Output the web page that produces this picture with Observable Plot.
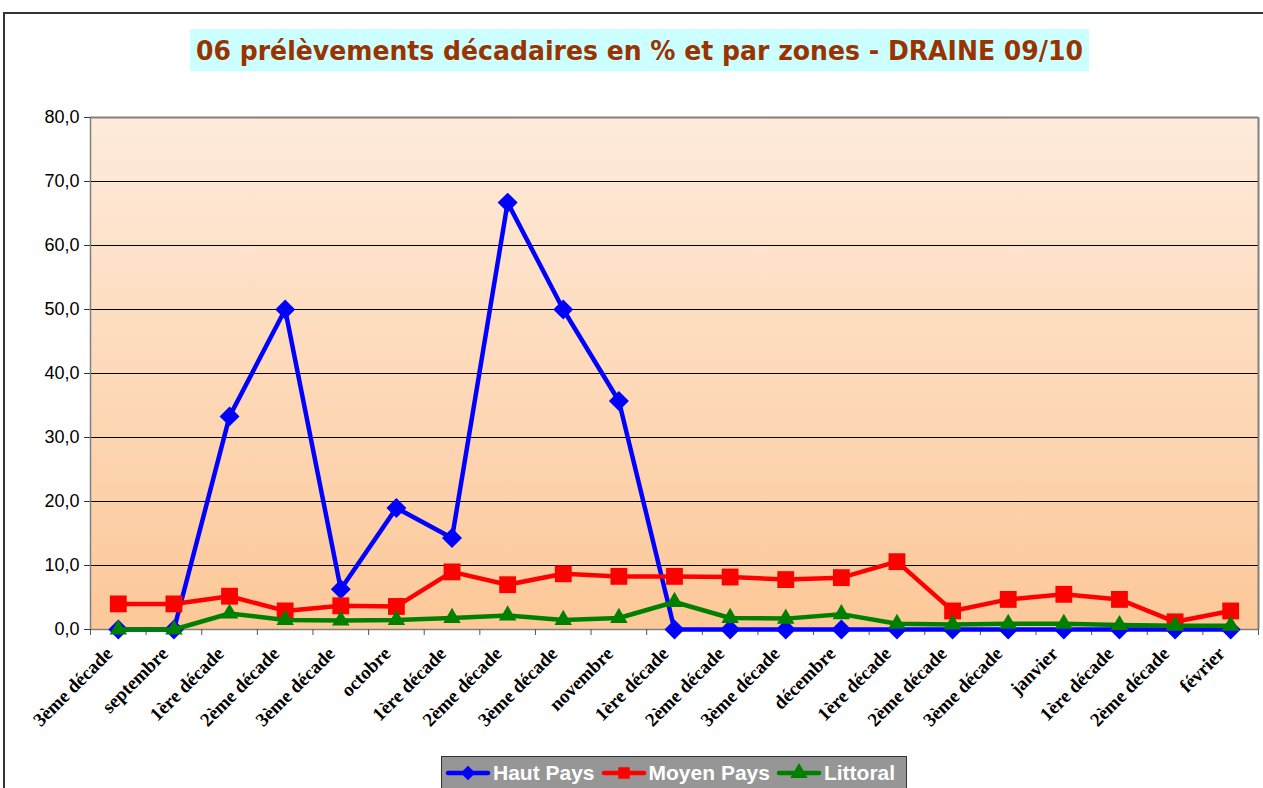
<!DOCTYPE html>
<html>
<head>
<meta charset="utf-8">
<script src="https://cdn.jsdelivr.net/npm/d3@7"></script>
<script src="https://cdn.jsdelivr.net/npm/@observablehq/plot@0.6"></script>
<style>
  html, body { margin: 0; padding: 0; background: #fff; width: 1263px; height: 788px; overflow: hidden; }
  #frame { position: absolute; left: 3px; top: 12px; width: 1300px; height: 820px; border-left: 2px solid #333; border-top: 2px solid #333; box-sizing: border-box; }
  #title { position: absolute; left: 190px; top: 29px; width: 899px; height: 42px; background: #ccffff;
    color: #993300; font-family: "DejaVu Sans", Verdana, sans-serif; font-weight: bold; font-size: 27px;
    display: flex; align-items: center; justify-content: center; white-space: nowrap; overflow: visible; }
  #title span { display: inline-block; transform-origin: center center; }
  #chart { position: absolute; left: 0; top: 100px; }
  #legend { position: absolute; left: 441px; top: 756px; width: 466px; height: 34px; background: #969696;
    border: 1px solid #333; box-sizing: border-box; display: flex; align-items: center; padding-left: 3px;
    font-family: "Liberation Sans", Arial, sans-serif; font-weight: bold; font-size: 21px; color: #fff; }
  #legend .item { display: flex; align-items: center; margin-right: 6px; white-space: nowrap; }
  #legend svg { margin-right: 2px; }
</style>
</head>
<body>
<div id="frame"></div>
<div id="title"><span>06 prélèvements décadaires en % et par zones - DRAINE 09/10</span></div>
<div id="chart"></div>
<div id="legend"></div>
<script>
const categories = ["3ème décade","septembre","1ère décade","2ème décade","3ème décade","octobre","1ère décade","2ème décade","3ème décade","novembre","1ère décade","2ème décade","3ème décade","décembre","1ère décade","2ème décade","3ème décade","janvier","1ère décade","2ème décade","février"];
const hautPays   = [0, 0, 33.3, 50.0, 6.3, 19.0, 14.3, 66.7, 50.0, 35.7, 0, 0, 0, 0, 0, 0, 0, 0, 0, 0, 0];
const moyenPays  = [4.0, 4.0, 5.2, 2.9, 3.7, 3.6, 9.0, 7.0, 8.7, 8.3, 8.3, 8.2, 7.8, 8.1, 10.6, 2.9, 4.7, 5.5, 4.7, 1.2, 2.9];
const littoral   = [0, 0, 2.5, 1.5, 1.4, 1.5, 1.8, 2.2, 1.5, 1.8, 4.3, 1.8, 1.7, 2.4, 0.9, 0.8, 0.9, 0.9, 0.7, 0.6, 0.6];
const seriesNames = ["Haut Pays", "Moyen Pays", "Littoral"];
const seriesColors = ["#0000ff", "#ff0000", "#008000"];
const seriesSymbols = ["diamond2", "square", "triangle"];
const seriesR = [9, 9.5, 6.5];
const yTicks = [0, 10, 20, 30, 40, 50, 60, 70, 80];

const allValues = [hautPays, moyenPays, littoral];
const data = [];
allValues.forEach((vals, s) => vals.forEach((v, i) => data.push({i, v, s: seriesNames[s]})));

const fmt = d => d.toFixed(1).replace(".", ",");
const idx = d3.range(categories.length);
const bounds = d3.range(-0.5, categories.length, 1);

const marks = [
  Plot.frame({fill: "url(#bggrad)", stroke: null}),
  Plot.ruleY(yTicks.filter(t => t > 0 && t < 80), {stroke: "#000", strokeWidth: 1}),
  Plot.ruleY([80], {stroke: "#808080", strokeWidth: 2}),
  Plot.ruleX([20.5], {stroke: "#808080", strokeWidth: 2}),
  Plot.ruleY([0], {stroke: "#808080", strokeWidth: 1.5}),
  Plot.ruleX([-0.5], {stroke: "#808080", strokeWidth: 1.5}),
  Plot.axisY({ticks: yTicks, tickFormat: fmt, tickSize: 6, tickPadding: 5, fontSize: 18,
    fontFamily: "Liberation Sans, Arial, sans-serif", fill: "#000", stroke: "#333", label: null}),
  Plot.axisX({ticks: bounds, tickFormat: () => "", tickSize: 6, stroke: "#555", label: null}),
  Plot.text(idx, {x: d => d, y: () => 0, text: i => categories[i], rotate: -45, textAnchor: "end",
    dx: -9, dy: 21, fontSize: 19, fontWeight: "bold", fontFamily: "Liberation Serif, Times New Roman, serif",
    fill: "#000", clip: false})
];
seriesNames.forEach((name, s) => {
  const d = data.filter(r => r.s === name);
  marks.push(Plot.line(d, {x: "i", y: "v", stroke: seriesColors[s], strokeWidth: 4.5}));
  marks.push(Plot.dot(d, {x: "i", y: "v", symbol: () => seriesSymbols[s], fill: seriesColors[s], stroke: null,
    r: seriesR[s]}));
});

const chart = Plot.plot({
  width: 1263,
  height: 650,
  marginLeft: 90,
  marginRight: 5,
  marginTop: 17,
  marginBottom: 121,
  style: {background: "transparent", overflow: "visible"},
  x: {type: "linear", domain: [-0.5, categories.length - 0.5]},
  y: {domain: [0, 80]},
  symbol: {type: "identity"},
  marks
});

const ns = "http://www.w3.org/2000/svg";
const defs = document.createElementNS(ns, "defs");
defs.innerHTML = `<linearGradient id="bggrad" x1="0" y1="0" x2="0" y2="1">
  <stop offset="0" stop-color="#feebdb"/><stop offset="1" stop-color="#fcc898"/></linearGradient>`;
chart.insertBefore(defs, chart.firstChild);
document.getElementById("chart").appendChild(chart);

// fit title text width to the reference's (~887px)
const tspan = document.querySelector("#title span");
const tw = tspan.getBoundingClientRect().width;
tspan.style.transform = `scaleX(${887 / tw})`;

// legend
const legend = document.getElementById("legend");
const symTypes = {diamond2: d3.symbolDiamond2, square: d3.symbolSquare, triangle: d3.symbolTriangle};
seriesNames.forEach((name, s) => {
  const path = d3.symbol(symTypes[seriesSymbols[s]], Math.PI * 6.5 * 6.5)();
  const item = document.createElement("div");
  item.className = "item";
  item.innerHTML = `<svg width="46" height="22"><line x1="3" x2="43" y1="11" y2="11" stroke="${seriesColors[s]}" stroke-width="4.5" stroke-linecap="round"/>
    <path d="${path}" transform="translate(23,11)" fill="${seriesColors[s]}"/></svg><span>${name}</span>`;
  legend.appendChild(item);
});
</script>
</body>
</html>
